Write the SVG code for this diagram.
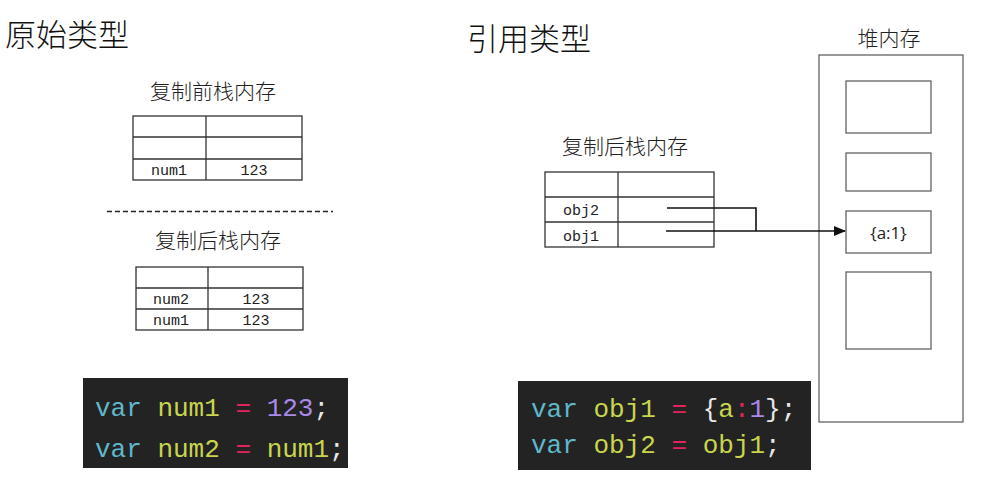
<svg xmlns="http://www.w3.org/2000/svg" width="982" height="480" viewBox="0 0 982 480">
<defs>
<style>
.title{font-family:"Noto Sans CJK SC","Noto Sans",sans-serif;font-size:31px;fill:#111;font-weight:300}
.sub{font-family:"Noto Sans CJK SC","Noto Sans",sans-serif;font-size:21px;fill:#222;text-anchor:middle;font-weight:300}
.cell{font-family:"Liberation Mono","DejaVu Sans Mono",monospace;font-size:15px;fill:#222;text-anchor:middle}
.grid{fill:none;stroke:#333;stroke-width:1.3}
.heap{fill:#fff;stroke:#555;stroke-width:1.2}
.code{font-family:"Liberation Mono","DejaVu Sans Mono",monospace;font-size:26px}
.kw{fill:#5fb8cc}.id{fill:#c9d54e}.op{fill:#e0245e}.num{fill:#a98ae8}.pl{fill:#e8e8e8}
.conn{fill:none;stroke:#111;stroke-width:1.6}
</style>
<marker id="arr" markerWidth="12" markerHeight="10" refX="11" refY="5" orient="auto" markerUnits="userSpaceOnUse">
<path d="M0,0 L12,5 L0,10 Z" fill="#111"/>
</marker>
</defs>
<rect width="982" height="480" fill="#fff"/>

<g id="title-primitive"><text class="title" x="5" y="46">原始类型</text></g>
<g id="title-reference"><text class="title" x="467" y="50">引用类型</text></g>

<g id="stack-before">
<text class="sub" x="213" y="99">复制前栈内存</text>
<rect class="grid" x="133" y="116" width="169" height="64"/>
<line class="grid" x1="133" y1="137" x2="302" y2="137"/>
<line class="grid" x1="133" y1="159" x2="302" y2="159"/>
<line class="grid" x1="206" y1="116" x2="206" y2="180"/>
<text class="cell" x="169" y="175">num1</text>
<text class="cell" x="254" y="175">123</text>
</g>

<g id="divider"><line x1="107" y1="211.5" x2="333" y2="211.5" stroke="#222" stroke-width="1.3" stroke-dasharray="5,3"/></g>

<g id="stack-after">
<text class="sub" x="218" y="248">复制后栈内存</text>
<rect class="grid" x="136" y="267" width="167" height="63"/>
<line class="grid" x1="136" y1="288" x2="303" y2="288"/>
<line class="grid" x1="136" y1="309" x2="303" y2="309"/>
<line class="grid" x1="208" y1="267" x2="208" y2="330"/>
<text class="cell" x="171" y="304">num2</text>
<text class="cell" x="256" y="304">123</text>
<text class="cell" x="171" y="325">num1</text>
<text class="cell" x="256" y="325">123</text>
</g>

<g id="code-primitive">
<rect x="83" y="378" width="265" height="90" fill="#232323"/>
<text class="code" x="95" y="416"><tspan class="kw">var</tspan><tspan class="id"> num1</tspan><tspan class="op"> =</tspan><tspan class="num"> 123</tspan><tspan class="pl">;</tspan></text>
<text class="code" x="95" y="457"><tspan class="kw">var</tspan><tspan class="id"> num2</tspan><tspan class="op"> =</tspan><tspan class="id"> num1</tspan><tspan class="pl">;</tspan></text>
</g>

<g id="stack-ref">
<text class="sub" x="625" y="154">复制后栈内存</text>
<rect class="grid" x="545" y="172" width="169" height="75"/>
<line class="grid" x1="545" y1="197" x2="714" y2="197"/>
<line class="grid" x1="545" y1="222" x2="714" y2="222"/>
<line class="grid" x1="618" y1="172" x2="618" y2="247"/>
<text class="cell" x="581" y="215">obj2</text>
<text class="cell" x="581" y="241">obj1</text>
</g>

<g id="heap">
<text class="sub" x="889" y="46">堆内存</text>
<rect class="heap" x="819" y="55" width="144" height="367"/>
<rect class="heap" x="846" y="81" width="85" height="52"/>
<rect class="heap" x="846" y="153" width="85" height="38"/>
<rect class="heap" x="846" y="272" width="85" height="77"/>
</g>

<g id="heap-obj">
<rect class="heap" x="846" y="211" width="85" height="42"/>
<text x="888.5" y="239" font-family="Open Sans,Liberation Sans,sans-serif" font-size="17" fill="#222" text-anchor="middle">{a:1}</text>
</g>

<g id="connectors">
<polyline class="conn" points="667,208 756,208 756,231"/>
<line class="conn" x1="666" y1="231" x2="845" y2="231" marker-end="url(#arr)"/>
</g>

<g id="code-reference">
<rect x="518" y="381" width="293" height="89" fill="#232323"/>
<text class="code" x="531" y="417"><tspan class="kw">var</tspan><tspan class="id"> obj1</tspan><tspan class="op"> =</tspan><tspan class="pl"> {</tspan><tspan class="id">a</tspan><tspan class="op">:</tspan><tspan class="num">1</tspan><tspan class="pl">};</tspan></text>
<text class="code" x="531" y="453"><tspan class="kw">var</tspan><tspan class="id"> obj2</tspan><tspan class="op"> =</tspan><tspan class="id"> obj1</tspan><tspan class="pl">;</tspan></text>
</g>
</svg>
